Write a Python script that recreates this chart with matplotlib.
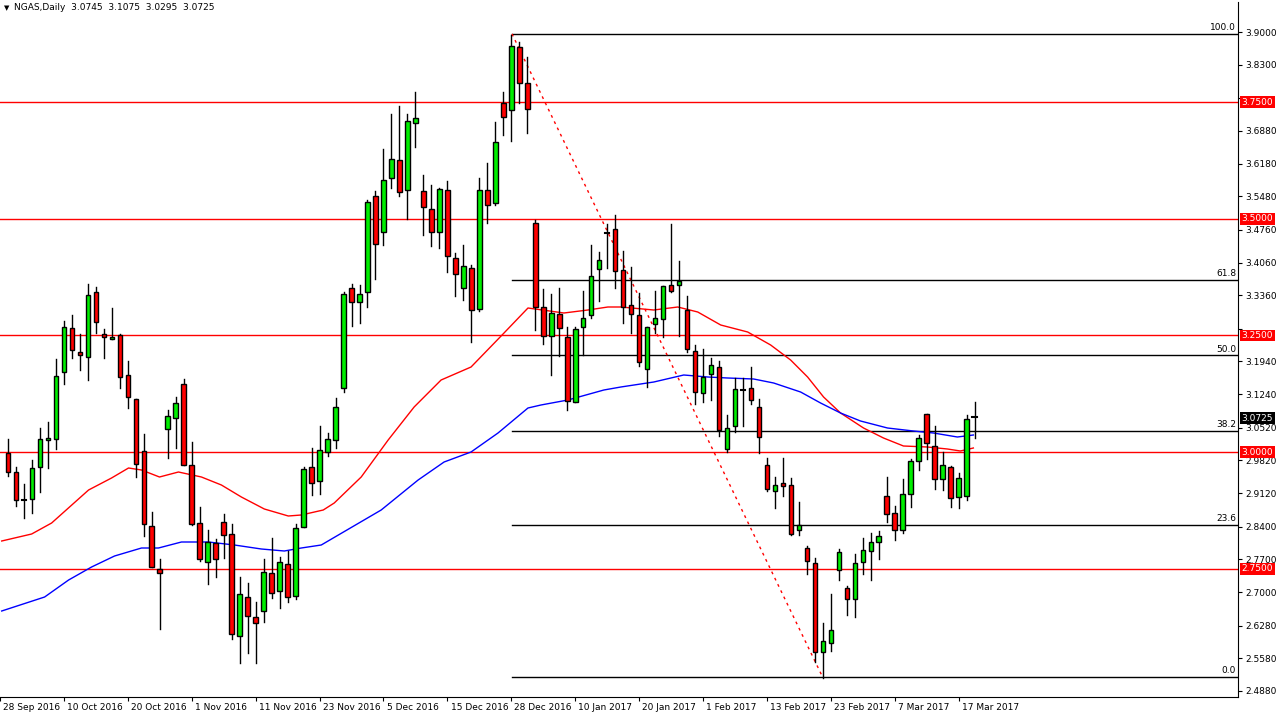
import matplotlib
matplotlib.use("Agg")
import matplotlib.pyplot as plt
from matplotlib.patches import Rectangle
import numpy as np

Y_TOP_PRICE = 3.9
PX_PER_UNIT = 466.7
def p(y):
    return Y_TOP_PRICE - (y - 32) / PX_PER_UNIT

# (open_y, close_y, high_y, low_y)
candles_y = [
    (452.7, 472.3, 439, 476), (472, 500, 467, 506), (500, 500.5, 484, 518), (499, 468, 460, 513),
    (467, 439, 428, 492), (440, 438, 422, 468), (439, 376, 359, 449), (372, 327, 321, 384),
    (328, 350, 315, 358), (352, 355, 334, 370), (357, 295, 284, 380), (292, 322, 287, 333),
    (334, 337, 329, 358), (339, 337, 308, 339), (335, 377, 334, 388), (375, 397, 361, 408),
    (399, 464, 399, 477), (451, 524, 434, 536), (526, 567, 512, 567), (569, 573, 559, 629),
    (429, 416, 410, 458), (418, 403, 397, 448), (384, 465, 379, 465), (465, 524, 442, 525),
    (523, 559, 507, 561), (562, 542, 530, 584), (543, 559, 539, 577), (522, 535, 514, 558),
    (534, 634, 524, 639), (636, 594, 577, 663), (597, 616, 583, 653), (617, 623, 602, 663),
    (611, 572, 559, 622), (573, 593, 538, 598), (591, 562, 557, 608), (564, 597, 551, 602),
    (596, 528, 524, 599), (527, 469, 467, 527), (467, 483, 448, 495), (481, 450, 426, 494),
    (452, 439, 433, 456), (440, 407, 398, 448), (388, 294, 292, 392), (288, 302, 284, 326),
    (302, 294, 285, 323), (292, 202, 200, 307), (196, 244, 191, 279), (232, 180, 149, 245),
    (178, 159, 114, 188), (160, 192, 106, 196), (190, 121, 114, 219), (123, 118, 92, 147),
    (191, 207, 175, 235), (209, 232, 185, 246), (232, 189, 188, 248), (190, 256, 181, 272),
    (258, 274, 253, 296), (288, 266, 245, 300), (268, 310, 265, 342), (309, 190, 178, 311),
    (190, 205, 163, 223), (203, 142, 122, 205), (103, 117, 92, 135), (110, 46, 35, 141),
    (47, 83, 42, 103), (83, 109, 57, 133), (223, 307, 220, 330), (307, 336, 289, 344),
    (336, 313, 294, 375), (314, 328, 288, 356), (337, 401, 327, 410), (402, 329, 327, 402),
    (327, 318, 291, 355), (315, 276, 245, 318), (269, 260, 252, 301), (233, 233.5, 224, 268),
    (229, 271, 215, 288), (270, 307, 251, 323), (305, 314, 267, 333), (315, 362, 293, 366),
    (369, 327, 327, 387), (324, 318, 291, 333), (319, 286, 286, 337), (285, 291, 224, 292),
    (285, 281, 261, 336), (310, 349, 296, 352), (351, 392, 345, 404), (393, 377, 349, 402),
    (374, 365, 358, 400), (367, 430, 361, 436), (449, 428, 415, 452), (426, 389, 378, 432),
    (390, 390.5, 378, 426), (388, 400, 367, 404), (407, 437, 399, 453), (465, 489, 458, 491),
    (491, 485, 477, 508), (483, 486, 458, 496), (485, 534, 478, 535), (530, 525, 502, 535),
    (548, 561, 546, 574), (563, 652, 558, 662), (652, 641, 623, 678), (643, 630, 594, 651),
    (570, 552, 549, 580), (588, 599, 586, 615), (599, 563, 554, 617), (562, 550, 538, 574),
    (551, 542, 533, 580), (542, 536, 531, 559), (496, 514, 477, 522), (513, 530, 506, 540),
    (530, 494, 479, 533), (494, 461, 459, 507), (461, 438, 435, 470), (414, 443, 414, 459),
    (446, 479, 426, 489), (479, 465, 452, 490), (467, 498, 466, 507), (497, 478, 473, 508),
    (496, 419, 415, 500),
]
opens = [round(p(c[0]), 4) for c in candles_y] + [3.0745]
closes = [round(p(c[1]), 4) for c in candles_y] + [3.0725]
highs = [round(p(c[2]), 4) for c in candles_y] + [3.1075]
lows = [round(p(c[3]), 4) for c in candles_y] + [3.0295]

ma_red_px = [(0,541),(30,534),(50,523),(87,490),(110,478),(127,468),(140,470),(158,477),(177,472),
             (200,477),(220,485),(240,497),(263,509),(287,516),(300,515),(322,510),(333,503),(360,477),
             (387,440),(413,407),(440,380),(470,367),(503,333),(527,308),(563,313),(587,310),(607,307),
             (620,307),(653,310),(677,307),(697,312),(720,325),(747,332),(770,345),(790,360),(807,377),
             (823,397),(840,413),(863,428),(883,438),(903,446),(927,447),(947,449),(960,451),(973,448)]
ma_blue_px = [(0,611),(43,597),(67,580),(90,567),(113,556),(140,548),(157,548),(180,542),(207,542),
              (233,545),(260,549),(283,551),(300,548),(320,545),(380,510),(417,480),(443,462),(470,452),
              (497,433),(527,408),(540,405),(567,400),(603,390),(620,387),(653,382),(683,375),(707,377),
              (727,378),(753,379),(773,383),(800,392),(820,403),(840,413),(860,421),(887,428),(913,431),
              (933,433),(957,437),(973,435)]

hlines = [3.75, 3.5, 3.25, 3.0, 2.75]
fib_high, fib_low = 3.896, 2.518
fib_levels = [0.0, 23.6, 38.2, 50.0, 61.8, 100.0]
yticks = [3.9000, 3.8300, 3.7590, 3.6880, 3.6180, 3.5480, 3.4760, 3.4060, 3.3360, 3.2640, 3.1940,
          3.1240, 3.0520, 2.9820, 2.9120, 2.8400, 2.7700, 2.7000, 2.6280, 2.5580, 2.4880]
hidden_ticks = [3.7590, 3.2640]
date_labels = ["28 Sep 2016", "10 Oct 2016", "20 Oct 2016", "1 Nov 2016", "11 Nov 2016", "23 Nov 2016",
               "5 Dec 2016", "15 Dec 2016", "28 Dec 2016", "10 Jan 2017", "20 Jan 2017", "1 Feb 2017",
               "13 Feb 2017", "23 Feb 2017", "7 Mar 2017", "17 Mar 2017"]

def bx(x):
    return (x - 6.3) / 8.0

fig = plt.figure(figsize=(12.81, 7.19), dpi=100)
ax = fig.add_axes([0.0, 22/719, 1238/1281, 695/719])
ax.set_xlim(bx(0), bx(1238))
ax.set_ylim(p(697), p(2))

for lv in hlines:
    ax.axhline(lv, color='#ff0000', lw=1, zorder=1)

x0f = bx(511)
for lv in fib_levels:
    pr = fib_low + (fib_high - fib_low) * lv / 100
    ax.plot([x0f, bx(1238)], [pr, pr], color='black', lw=1, zorder=1)
    ax.text(bx(1236), pr + 0.004, f"{lv:.1f}", ha='right', va='bottom', fontsize=6.5)
ax.plot([x0f, bx(822)], [fib_high, fib_low], color='red', lw=1, ls=(0, (2, 3)), zorder=1)

ax.plot([bx(x) for x, _ in ma_red_px], [p(y) for _, y in ma_red_px], color='#ff0000', lw=1, zorder=2)
ax.plot([bx(x) for x, _ in ma_blue_px], [p(y) for _, y in ma_blue_px], color='#0000ff', lw=1, zorder=2)

w = 4.6 / 8.0
for i, (o, h, l, c) in enumerate(zip(opens, highs, lows, closes)):
    ax.plot([i, i], [l, h], color='black', lw=1, zorder=3)
    if abs(c - o) < 0.004:
        ax.plot([i - w/2, i + w/2], [o, o], color='black', lw=1.5, zorder=4)
        continue
    col = '#00ee00' if c > o else '#ff0000'
    ax.add_patch(Rectangle((i - w/2, min(o, c)), w, abs(c - o), facecolor=col,
                           edgecolor='black', lw=1, zorder=4))

ax.yaxis.tick_right()
ax.set_yticks(yticks)
ax.set_yticklabels(["" if v in hidden_ticks else f"{v:.4f}" for v in yticks], fontsize=6.5)
ax.tick_params(axis='y', length=3, pad=2)
ticks_x = [7 + 8*k for k in range(-1, 15)]
ax.set_xticks(ticks_x)
ax.set_xticklabels([])
ax.tick_params(axis='x', length=3)
for t, lab in zip(ticks_x, date_labels):
    ax.text(t + 0.4, p(697) - 0.012, lab, ha='left', va='top', fontsize=6.5, clip_on=False)

def tag(val, bg, fg):
    ax.text(1.003, val, f"{val:.4f}", transform=ax.get_yaxis_transform(), ha='left', va='center',
            fontsize=6.5, color=fg, bbox=dict(boxstyle='square,pad=0.15', facecolor=bg, edgecolor='none'),
            clip_on=False, zorder=10)
for lv in hlines:
    tag(lv, '#ff0000', 'white')
tag(closes[-1], 'black', 'white')

for s in ['top', 'left']:
    ax.spines[s].set_visible(False)
fig.text(14/1281, 1 - 8/719, "NGAS,Daily  3.0745  3.1075  3.0295  3.0725", fontsize=6.5, va='center')
fig.text(4/1281, 1 - 8/719, "▼", fontsize=5, va='center')

fig.savefig("out.png", dpi=100)
